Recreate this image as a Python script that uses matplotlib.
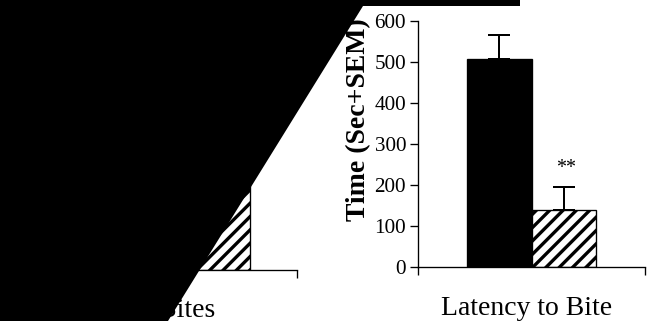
import matplotlib
matplotlib.use("Agg")
import matplotlib.pyplot as plt
from matplotlib.patches import Polygon

# ---------------- data ----------------
groups = ["Control", "Treatment"]
bar_offsets = [-0.25, 0.25]

# left panel (mostly hidden behind the black mask)
bites_label = "Number of Bites"
bites_values = [9.0, 5.0]
bites_sem = [1.0, 1.0]
bites_yticks = [0, 2, 4, 6, 8, 10, 12]

# right panel
latency_label = "Latency to Bite"
latency_values = [508, 139]
latency_sem = [59, 57]
latency_yticks = [0, 100, 200, 300, 400, 500, 600]
latency_ylabel = "Time (Sec+SEM)"
latency_sig = "**"

# ---------------- style ----------------
DPI = 160
W, H = 651, 321
plt.rcParams["font.family"] = ["Liberation Serif", "DejaVu Serif"]
plt.rcParams["hatch.linewidth"] = 1.5
plt.rcParams["hatch.color"] = "black"

fig = plt.figure(figsize=(W / DPI, H / DPI), dpi=DPI)


def px_axes(x0, x1, ybot, ytop):
    return fig.add_axes([x0 / W, 1 - ybot / H, (x1 - x0) / W, (ybot - ytop) / H])


def style_axes(ax, yticks):
    for s in ("top", "right"):
        ax.spines[s].set_visible(False)
    for s in ("left", "bottom"):
        ax.spines[s].set_linewidth(0.6)
    ax.set_xlim(-0.88, 0.88)
    ax.set_xticks([-0.88, 0.88])
    ax.set_xticklabels(["", ""])
    ax.set_ylim(yticks[0], yticks[-1])
    ax.set_yticks(yticks)
    ax.tick_params(axis="both", direction="out", length=3.4, width=0.6,
                   labelsize=9.5, pad=2.0, colors="black")


def draw_bars(ax, values, sems):
    fills = ["black", "white"]
    hatches = [None, "////"]
    for off, v, e, fc, h in zip(bar_offsets, values, sems, fills, hatches):
        ax.bar(off, v, width=0.5, color=fc, edgecolor="black",
               linewidth=0.6, hatch=h, zorder=2)
        ax.errorbar(off, v, yerr=[[0], [e]], fmt="none", ecolor="black",
                    elinewidth=0.9, capsize=5, capthick=0.9, zorder=3)


# left panel
axL = px_axes(80, 297, 270, 21)
style_axes(axL, bites_yticks)
draw_bars(axL, bites_values, bites_sem)
axL.text(0.622, -0.189, bites_label, transform=axL.transAxes,
         ha="right", va="baseline", fontsize=12.5)

# right panel
axR = px_axes(418, 645, 267, 21)
style_axes(axR, latency_yticks)
draw_bars(axR, latency_values, latency_sem)
axR.text(0.478, -0.195, latency_label, transform=axR.transAxes,
         ha="center", va="baseline", fontsize=12.5)
axR.text(-0.262, 0.598, latency_ylabel, transform=axR.transAxes,
         rotation=90, ha="center", va="center", fontsize=12.5,
         fontweight="bold")
axR.text(bar_offsets[1] + 0.02, latency_values[1] + latency_sem[1] + 22,
         latency_sig, ha="center", va="bottom", fontsize=9)

# black mask covering the left part of the image
mask_px = [(0, 0), (520, 0), (520, 6), (363, 6), (168, 321), (0, 321)]
mask = Polygon([(x / W, 1 - y / H) for x, y in mask_px], closed=True,
               facecolor="black", edgecolor="none",
               transform=fig.transFigure, zorder=20)
fig.add_artist(mask)

fig.savefig("out.png", dpi=DPI)
